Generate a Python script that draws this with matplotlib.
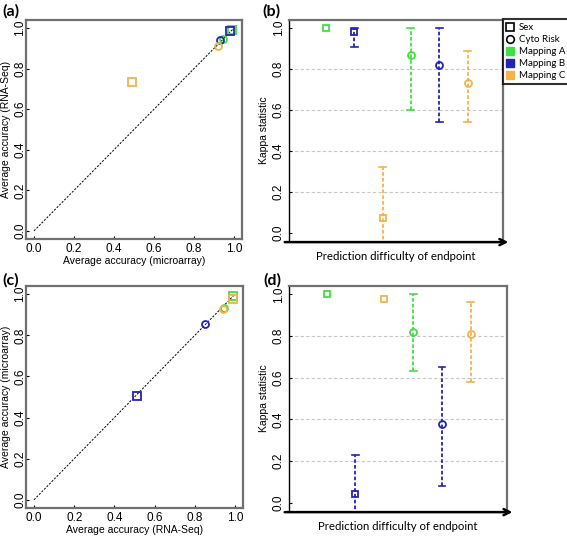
import matplotlib
matplotlib.use("Agg")
import matplotlib.pyplot as plt
import numpy as np
from matplotlib.lines import Line2D

# ---------------- data ----------------
endpoints = ["Sex", "Sex", "Sex", "Cyto Risk", "Cyto Risk", "Cyto Risk"]
mappings = ["Mapping A", "Mapping B", "Mapping C", "Mapping A", "Mapping B", "Mapping C"]

# panel (a): microarray (x) vs RNA-Seq (y)
a_micro = [0.99, 0.98, 0.49, 0.945, 0.93, 0.92]
a_rnaseq = [0.99, 0.985, 0.735, 0.945, 0.94, 0.91]

# panel (c): RNA-Seq (x) vs microarray (y)
c_rnaseq = [0.99, 0.51, 0.99, 0.945, 0.85, 0.94]
c_micro = [0.99, 0.505, 0.975, 0.935, 0.855, 0.93]

# panel (b): kappa with error ranges
b_kappa = [1.0, 0.98, 0.07, 0.87, 0.82, 0.73]
b_low = [np.nan, 0.91, -0.20, 0.60, 0.54, 0.54]
b_high = [np.nan, 1.00, 0.32, 1.00, 1.00, 0.89]

# panel (d)
d_kappa = [1.0, 0.04, 0.98, 0.82, 0.38, 0.81]
d_low = [np.nan, -0.20, np.nan, 0.63, 0.08, 0.58]
d_high = [np.nan, 0.23, np.nan, 1.00, 0.65, 0.965]

ticks01 = [0.0, 0.2, 0.4, 0.6, 0.8, 1.0]
grid_levels = [0.2, 0.4, 0.6, 0.8]

colors = {"Mapping A": "#3FE03F", "Mapping B": "#2323B4", "Mapping C": "#F5B245"}
markers = {"Sex": "s", "Cyto Risk": "o"}

W, H = 567, 537
fig = plt.figure(figsize=(W / 100, H / 100), dpi=100)

def box(l, t, r, b):
    return [l / W, 1 - b / H, (r - l) / W, (b - t) / H]

tick_font = dict(family="Liberation Sans", size=8.5)
lab_font = dict(family="Liberation Sans", size=7.5)
cal = "Lato"
FRAME = "#707070"


def scatter_panel(ax, xs, ys, xlabel, ylabel):
    ax.set_xlim(-0.04, 1.04)
    ax.set_ylim(-0.04, 1.04)
    ax.plot([0, 1], [0, 1], color="black", lw=0.7, dashes=(2.2, 1.5))
    for x, y, e, m in zip(xs, ys, endpoints, mappings):
        ax.plot([x], [y], marker=markers[e], ms=5.5 if e == "Sex" else 5,
                mfc="none", mec=colors[m], mew=1.3, ls="none")
    ax.set_xticks(ticks01)
    ax.set_yticks(ticks01)
    ax.set_xticklabels([f"{t:.1f}" for t in ticks01], **tick_font)
    ax.set_yticklabels([f"{t:.1f}" for t in ticks01], **tick_font, rotation=90, va="center")
    ax.tick_params(direction="in", length=2.5, width=0.8)
    ax.tick_params(axis="x", pad=3)
    ax.tick_params(axis="y", pad=0)
    for s in ax.spines.values():
        s.set_color(FRAME)
        s.set_linewidth(1.6)
    ax.set_xlabel(xlabel, **lab_font)
    ax.xaxis.set_label_coords(0.5, -0.077)
    ax.set_ylabel(ylabel, **lab_font)
    ax.yaxis.set_label_coords(-0.068, 0.5)


def kappa_panel(ax, kap, lo, hi):
    ax.set_xlim(-0.3, 7.25)
    ax.set_ylim(-0.04, 1.04)
    for g in grid_levels:
        ax.axhline(g, color="#C8C8C8", lw=0.8, dashes=(3, 2), zorder=0)
    xpos = np.arange(1, len(kap) + 1)
    for x, k, l, h, e, m in zip(xpos, kap, lo, hi, endpoints, mappings):
        c = colors[m]
        if not np.isnan(l):
            ax.plot([x, x], [l, h], color=c, lw=1.3, dashes=(2, 1.2), zorder=2)
            for v in (l, h):
                ax.plot([x - 0.12, x + 0.12], [v, v], color=c, lw=1.2, zorder=2)
        ax.plot([x], [k], marker=markers[e], ms=5, mfc="none", mec=c, mew=1.3,
                ls="none", zorder=3)
    ax.set_yticks(ticks01)
    ax.set_yticklabels([f"{t:.1f}" for t in ticks01], **tick_font, rotation=90, va="center")
    ax.set_xticks([])
    ax.tick_params(axis="y", direction="in", length=2.5, width=0.8, pad=3)
    ax.spines["top"].set_color(FRAME)
    ax.spines["right"].set_color(FRAME)
    ax.spines["top"].set_linewidth(1.6)
    ax.spines["right"].set_linewidth(1.6)
    ax.spines["left"].set_color("black")
    ax.spines["left"].set_linewidth(1.0)
    ax.spines["bottom"].set_visible(False)
    ax.set_ylabel("Kappa statistic", **lab_font)
    ax.yaxis.set_label_coords(-0.093, 0.5)
    ax.annotate("", xy=(1.025, -0.005), xytext=(-0.02, -0.005),
                xycoords="axes fraction", textcoords="axes fraction",
                arrowprops=dict(arrowstyle="->", lw=1.8, color="black",
                                mutation_scale=11, shrinkA=0, shrinkB=0),
                annotation_clip=False)
    ax.text(0.5, -0.045, "Prediction difficulty of endpoint", transform=ax.transAxes,
            ha="center", va="top", family=cal, size=8.2)


ax_a = fig.add_axes(box(26, 20, 242, 239))
scatter_panel(ax_a, a_micro, a_rnaseq, "Average accuracy (microarray)", "Average accuracy (RNA-Seq)")
ax_b = fig.add_axes(box(289, 20, 503, 241))
kappa_panel(ax_b, b_kappa, b_low, b_high)
ax_c = fig.add_axes(box(26, 286, 243, 508))
scatter_panel(ax_c, c_rnaseq, c_micro, "Average accuracy (RNA-Seq)", "Average accuracy (microarray)")
ax_d = fig.add_axes(box(289, 286, 507, 511))
kappa_panel(ax_d, d_kappa, d_low, d_high)

for lab, (x, y) in zip(["(a)", "(b)", "(c)", "(d)"],
                       [(2, 11), (262, 11), (2, 280), (263, 280)]):
    fig.text(x / W, 1 - y / H, lab, family=cal, weight="bold", size=11.5, ha="left", va="center")

handles = [
    Line2D([], [], marker="s", mfc="none", mec="black", mew=1.2, ls="none", ms=5.5),
    Line2D([], [], marker="o", mfc="none", mec="black", mew=1.2, ls="none", ms=5.5),
    Line2D([], [], marker="s", mfc=colors["Mapping A"], mec=colors["Mapping A"], ls="none", ms=6),
    Line2D([], [], marker="s", mfc=colors["Mapping B"], mec=colors["Mapping B"], ls="none", ms=6),
    Line2D([], [], marker="s", mfc=colors["Mapping C"], mec=colors["Mapping C"], ls="none", ms=6),
]
leg = fig.legend(handles, ["Sex", "Cyto Risk", "Mapping A", "Mapping B", "Mapping C"],
                 loc="upper left", bbox_to_anchor=(503 / W, 1 - 19 / H),
                 prop=dict(family=cal, size=7.0), frameon=True, fancybox=False,
                 borderpad=0.45, labelspacing=0.3, handlelength=0.6, handletextpad=0.6,
                 borderaxespad=0)
leg.get_frame().set_edgecolor("black")
leg.get_frame().set_linewidth(1.5)

fig.savefig("out.png", dpi=100)
